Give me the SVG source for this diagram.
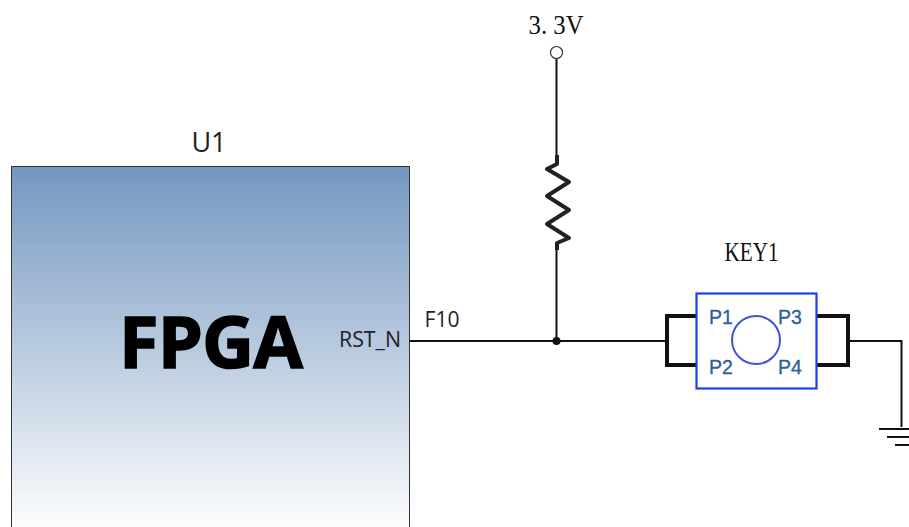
<svg xmlns="http://www.w3.org/2000/svg" width="909" height="527" viewBox="0 0 909 527">
<style>
.w{fill:none;stroke:#111;stroke-width:2}
.t{stroke-width:4}
.s{font-family:"Open Sans","Noto Sans",sans-serif;fill:#222}
.c{font-family:"Liberation Serif","Noto Sans CJK SC",serif;fill:#111}
.p{font-family:"Liberation Sans",Arial,sans-serif;font-size:19.500px;fill:#2b5f96;stroke:#2b5f96;stroke-width:.3}
</style>
<defs><linearGradient id="g" x1="0" y1="0" x2="0" y2="1">
<stop offset="0" stop-color="#7497c0"/><stop offset="1" stop-color="#fdfdfe"/></linearGradient></defs>
<rect width="909" height="527" fill="#fff"/>
<g id="U1">
<rect x="11.500" y="166.500" width="398" height="362" fill="url(#g)" stroke="#333" stroke-width="1"/>
<text class="s" x="209" y="152" font-size="27" text-anchor="middle">U1</text>
<text x="211" y="368" font-family="Open Sans,Noto Sans,sans-serif" font-weight="700" font-size="72" text-anchor="middle" fill="#000" stroke="#000" stroke-width="1.500" textLength="184" lengthAdjust="spacing">FPGA</text>
<text class="s" x="370" y="347" font-size="21" text-anchor="middle" textLength="62" lengthAdjust="spacingAndGlyphs">RST_N</text>
</g>
<g id="connectors">
<path class="w" d="M409 341H666M556.500 58V155M556.500 246V341M848 341H901.500V427"/>
<path d="M557 155V164L547 169 569 182 547 196 569 210 547 224 569 238 557 243V250" fill="none" stroke="#222" stroke-width="4" stroke-linejoin="round"/>
<circle cx="556.500" cy="341" r="4" fill="#111"/>
</g>
<text class="s" x="442" y="327" font-size="21" text-anchor="middle">F10</text>
<g id="VCC">
<circle cx="556.500" cy="52.500" r="6" fill="#fff" stroke="#333" stroke-width="1.200"/>
<text class="c" x="556" y="34" font-size="27" text-anchor="middle" textLength="55" lengthAdjust="spacingAndGlyphs">3. 3V</text>
</g>
<g id="KEY1">
<text class="c" x="751.500" y="261" font-size="27" text-anchor="middle" textLength="54" lengthAdjust="spacingAndGlyphs">KEY1</text>
<path class="w t" d="M696 316H667V365H696M816 316H848V365H816"/>
<rect x="696.500" y="293.500" width="120" height="95" fill="#fff" stroke="#1f3fe8" stroke-width="2.200"/>
<circle cx="756" cy="340" r="24" fill="none" stroke="#4452d8" stroke-width="2"/>
<text class="p" x="709" y="324">P1</text>
<text class="p" x="709" y="374">P2</text>
<text class="p" x="778" y="324">P3</text>
<text class="p" x="778" y="374">P4</text>
</g>
<g id="GND">
<path class="w" d="M879 429H909M887 437H909M895 445H909"/>
</g>
</svg>
